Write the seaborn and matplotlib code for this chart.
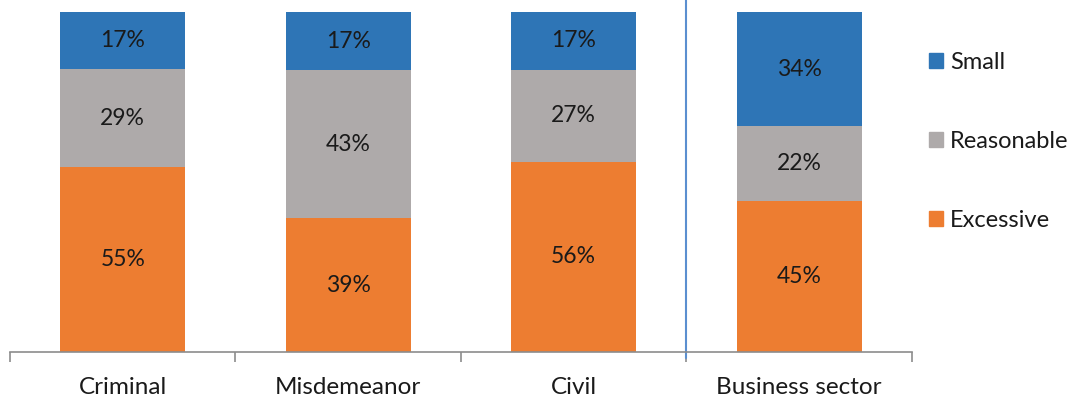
import numpy as np
import pandas as pd
import matplotlib
matplotlib.use('Agg')
import matplotlib.pyplot as plt
import seaborn as sns
from matplotlib.patches import Patch

categories = ['Criminal', 'Misdemeanor', 'Civil', 'Business sector']
excessive = [55, 39, 56, 45]
reasonable = [29, 43, 27, 22]
small = [17, 17, 17, 34]

sns.set_style('white')
plt.rcParams['font.family'] = ['Lato', 'DejaVu Sans']

colors = {'Excessive': '#ED7D31', 'Reasonable': '#AEAAAA', 'Small': '#2E75B6'}

fig = plt.figure(figsize=(10.79, 3.98), dpi=100)
ax = fig.add_axes([10 / 1079, 46 / 398, 902 / 1079, 340 / 398])

df = pd.DataFrame({'category': categories, 'Excessive': excessive,
                   'Reasonable': reasonable, 'Small': small})
# bars are drawn as 100% stacked (rounded labels don't always add up)
total = df[['Excessive', 'Reasonable', 'Small']].sum(axis=1).to_numpy()

bottom = np.zeros(len(categories))
for series in ['Excessive', 'Reasonable', 'Small']:
    vals = df[series].to_numpy()
    share = vals / total * 100
    plot_df = pd.DataFrame({'category': categories, 'share': share})
    sns.barplot(x='category', y='share', data=plot_df, color=colors[series],
                width=0.555, bottom=bottom, ax=ax, saturation=1, linewidth=0)
    for i, v in enumerate(vals):
        ax.text(i, bottom[i] + share[i] / 2, f'{v}%', ha='center', va='center',
                fontsize=16.5, color='#1a1a1a')
    bottom = bottom + share

ax.set_xlim(-0.5, len(categories) - 0.5)
ax.set_ylim(0, 100)
ax.set_xlabel('')
ax.set_ylabel('')
ax.set_yticks([])
for s in ['top', 'right', 'left']:
    ax.spines[s].set_visible(False)
ax.spines['bottom'].set_color('#8c8c8c')
ax.spines['bottom'].set_linewidth(1.2)
ax.set_xticks(range(len(categories)))
ax.set_xticklabels(categories, fontsize=17.5, color='#1a1a1a')
ax.tick_params(axis='x', which='major', length=0, pad=18)
ax.set_xticks(np.arange(-0.5, len(categories)), minor=True)
ax.tick_params(axis='x', which='minor', bottom=True, length=7,
               color='#8c8c8c', width=1.2)

# separator line before business sector
ax.plot([2.5, 2.5], [-1.8, 103.5], color='#5B8FD0', lw=1.5, clip_on=False)

handles = [Patch(color=colors[k]) for k in ['Small', 'Reasonable', 'Excessive']]
leg = ax.legend(handles, ['Small', 'Reasonable', 'Excessive'], loc='upper left',
                bbox_to_anchor=(1.008, 0.91), frameon=False, fontsize=17,
                handlelength=0.6, handleheight=0.6, handletextpad=0.3,
                labelspacing=2.45, borderaxespad=0)
for t in leg.get_texts():
    t.set_color('#1a1a1a')

fig.savefig('out.png', dpi=100)
